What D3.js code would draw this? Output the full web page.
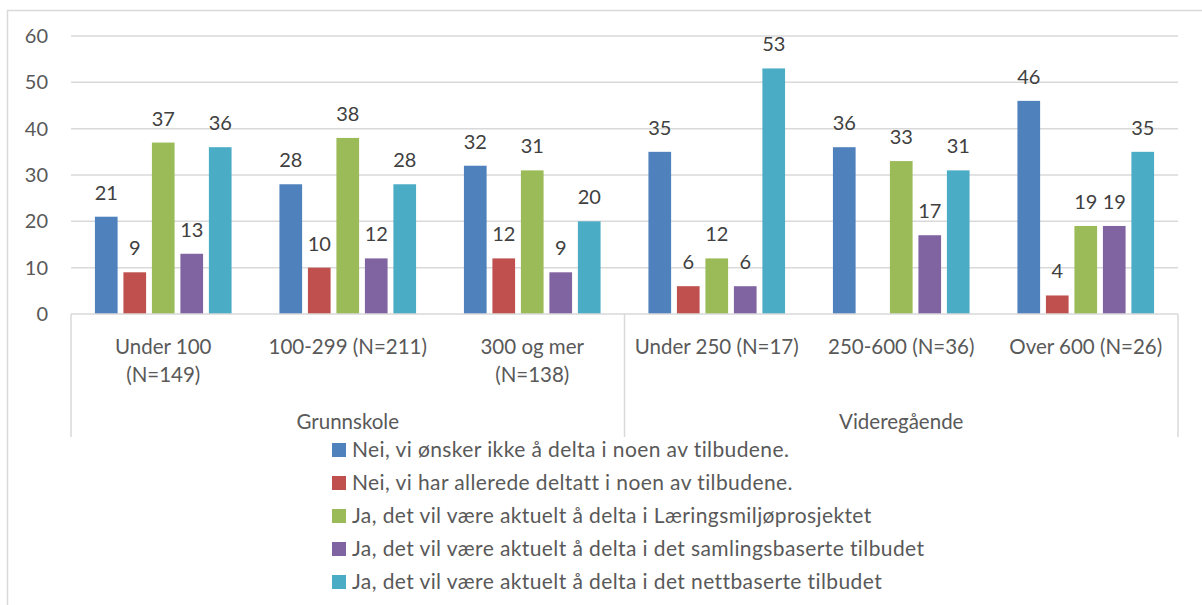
<!DOCTYPE html>
<html>
<head>
<meta charset="utf-8">
<script src="https://cdn.jsdelivr.net/npm/d3@7"></script>
<style>
  body { margin: 0; background: #fff; }
  text { font-family: Lato, "Open Sans", sans-serif; }
</style>
</head>
<body>
<div id="chart"></div>
<script>
// categories: inner label lines + outer group
const categories = ["Under 100|(N=149)", "100-299 (N=211)", "300 og mer|(N=138)",
                    "Under 250 (N=17)", "250-600 (N=36)", "Over 600 (N=26)"];
const groups = ["Grunnskole", "Videregående"];
const groupOf = [0, 0, 0, 1, 1, 1];

const seriesNames = [
  "Nei, vi ønsker ikke å delta i noen av tilbudene.",
  "Nei, vi har allerede deltatt i noen av tilbudene.",
  "Ja, det vil være aktuelt å delta i Læringsmiljøprosjektet",
  "Ja, det vil være aktuelt å delta i det samlingsbaserte tilbudet",
  "Ja, det vil være aktuelt å delta i det nettbaserte tilbudet"
];
const colors = ["#4F81BD", "#C0504D", "#9BBB59", "#8064A2", "#4BACC6"];

const ikkeDelta   = [21, 28, 32, 35, 36, 46];
const alleredeDel = [9, 10, 12, 6, null, 4];
const laering     = [37, 38, 31, 12, 33, 19];
const samling     = [13, 12, 9, 6, 17, 19];
const nettbasert  = [36, 28, 20, 53, 31, 35];
const seriesValues = [ikkeDelta, alleredeDel, laering, samling, nettbasert];

const yTicks = [0, 10, 20, 30, 40, 50, 60];

const W = 1202, H = 605;
const plot = {left: 71, right: 1178, top: 36, bottom: 314};

const svg = d3.select("#chart").append("svg")
    .attr("width", W).attr("height", H);

// outer chart border
svg.append("rect")
    .attr("x", 7.5).attr("y", 10.5)
    .attr("width", 1300).attr("height", 700)
    .attr("fill", "none").attr("stroke", "#d9d9d9").attr("stroke-width", 1.5);

const y = d3.scaleLinear().domain([0, 60]).range([plot.bottom, plot.top]);

const x0 = d3.scaleBand().domain(d3.range(categories.length))
    .range([plot.left, plot.right]).padding(0);
const x1 = d3.scaleBand().domain(d3.range(seriesNames.length))
    .range([0, x0.bandwidth()]).paddingInner(0.204).paddingOuter(0.84);

// gridlines
svg.append("g").selectAll("line")
  .data(yTicks.filter(d => d > 0))
  .join("line")
    .attr("x1", plot.left).attr("x2", plot.right)
    .attr("y1", d => y(d)).attr("y2", d => y(d))
    .attr("stroke", "#d9d9d9").attr("stroke-width", 1.5);

// y tick labels
svg.append("g").selectAll("text")
  .data(yTicks)
  .join("text")
    .attr("x", 48).attr("y", d => y(d))
    .attr("dy", "0.35em")
    .attr("text-anchor", "end")
    .attr("font-size", 20)
    .attr("fill", "#595959")
    .text(d => d);

// bars
const series = seriesValues.map((vals, s) => vals.map((v, c) => ({s, c, v})));
const barG = svg.append("g");
series.forEach(rows => {
  barG.selectAll(null)
    .data(rows.filter(d => d.v != null))
    .join("rect")
      .attr("x", d => x0(d.c) + x1(d.s))
      .attr("y", d => y(d.v))
      .attr("width", x1.bandwidth())
      .attr("height", d => y(0) - y(d.v))
      .attr("fill", colors[rows[0].s]);

  barG.selectAll(null)
    .data(rows.filter(d => d.v != null))
    .join("text")
      .attr("x", d => x0(d.c) + x1(d.s) + x1.bandwidth() / 2)
      .attr("y", d => y(d.v) - 17)
      .attr("text-anchor", "middle")
      .attr("font-size", 20)
      .attr("fill", "#404040")
      .text(d => d.v);
});

// category axis
const axisCol = "#d9d9d9";
svg.append("line")
    .attr("x1", plot.left).attr("x2", plot.right)
    .attr("y1", plot.bottom).attr("y2", plot.bottom)
    .attr("stroke", axisCol).attr("stroke-width", 1.5);

const bounds = [0, 3, 6].map(i => i < categories.length ? x0(i) : plot.right);
svg.append("g").selectAll("line")
  .data(bounds)
  .join("line")
    .attr("x1", d => d).attr("x2", d => d)
    .attr("y1", plot.bottom).attr("y2", 437)
    .attr("stroke", axisCol).attr("stroke-width", 1.5);

const catText = svg.append("g").selectAll("text")
  .data(categories)
  .join("text")
    .attr("x", (d, i) => x0(i) + x0.bandwidth() / 2)
    .attr("y", 354)
    .attr("text-anchor", "middle")
    .attr("font-size", 20.5)
    .attr("fill", "#595959");
catText.selectAll("tspan")
  .data(d => d.split("|"))
  .join("tspan")
    .attr("x", function() { return this.parentNode.getAttribute("x"); })
    .attr("dy", (d, i) => i === 0 ? 0 : 28)
    .text(d => d);

svg.append("g").selectAll("text")
  .data(groups)
  .join("text")
    .attr("x", (d, g) => {
      const idx = groupOf.map((v, i) => v === g ? i : -1).filter(i => i >= 0);
      return (x0(idx[0]) + x0(idx[idx.length - 1]) + x0.bandwidth()) / 2;
    })
    .attr("y", 429)
    .attr("text-anchor", "middle")
    .attr("font-size", 20.5)
    .attr("fill", "#595959")
    .text(d => d);

// legend
const legend = svg.append("g").selectAll("g")
  .data(seriesNames)
  .join("g")
    .attr("transform", (d, i) => `translate(332, ${450 + i * 33})`);
legend.append("rect")
    .attr("x", 0).attr("y", -7)
    .attr("width", 14).attr("height", 14)
    .attr("fill", (d, i) => colors[i]);
legend.append("text")
    .attr("x", 20).attr("y", 0)
    .attr("dy", "0.35em")
    .attr("font-size", 21)
    .attr("letter-spacing", 0.4)
    .attr("fill", "#595959")
    .text(d => d);
</script>
</body>
</html>
